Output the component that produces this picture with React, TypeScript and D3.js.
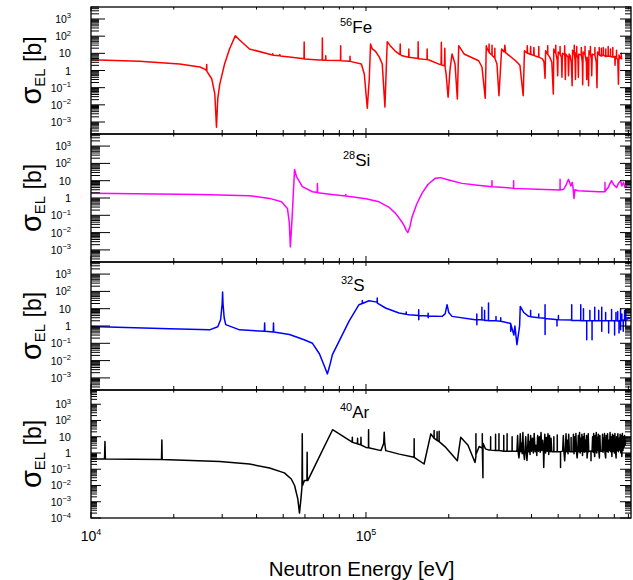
import React from "react";
import * as d3 from "d3";

// elastic cross sections, [energy eV, sigma b]
const fe56: [number, number][] = [
  [10000, 4.3], [15000, 3.5], [21000, 2.4], [24900, 1.6], [25900, 1.2],
  [26300, 1.0], [26350, 2.2], [26400, 0.9],
  [27500, 0.32], [28200, 0.043], [28600, 5e-4], [28900, 0.022], [29400, 0.16],
  [30600, 2.4], [31900, 18], [33500, 107], [34700, 60], [37700, 18],
  [45700, 8], [45800, 9.5], [46000, 7.8], [48500, 7.2], [48600, 8.6], [48800, 7],
  [52700, 6.2], [59500, 4.8], [59600, 46], [59700, 4.6], [67700, 4.1],
  [69300, 4.1], [69400, 78], [69500, 4.0], [71300, 4.0], [71400, 7.2], [71500, 4.0],
  [80800, 3.8], [80900, 28], [81000, 3.7], [87400, 3.5], [87500, 6.7], [87600, 3.4],
  [96200, 2.4], [98600, 0.63], [101100, 6.3e-3], [102800, 0.32], [103900, 35],
  [105400, 18], [108100, 13.6], [111700, 6.2], [114600, 2.4], [117200, 7.4e-3],
  [118500, 1.2], [119500, 48], [122500, 28], [127700, 13.6],
  [133000, 8.5], [133200, 35], [133400, 8.3], [135400, 7.2],
  [143000, 6], [143200, 18], [143400, 5.9], [154600, 5], [154800, 48], [155000, 4.9],
  [166700, 4.3], [166900, 18], [167100, 4.3], [169700, 4.1], [186000, 2.2],
  [187500, 2.2], [188000, 44], [188500, 2.1], [193000, 1.9], [193500, 20], [194000, 1.6],
  [195600, 0.63], [198900, 0.028], [202200, 1.2], [205600, 9.2], [210800, 2.4],
  [214900, 0.022], [217400, 28], [227300, 9.2], [256900, 3.7], [264100, 1.6],
  [271500, 0.024], [273800, 28], [276000, 18], [280000, 12], [280300, 35], [280600, 11],
  [287000, 8], [287300, 30], [287600, 7.5], [292000, 6], [294000, 5.5], [294200, 20], [294400, 5.2],
  [299400, 2.4], [304500, 0.034], [311400, 18], [318000, 12], [320000, 30], [322000, 11],
  [350000, 3.7], [363000, 2], [373000, 0.034], [377000, 14],
  [385000, 10.5], [386000, 28], [387000, 10], [396000, 8.8], [397000, 25], [398000, 8.5],
  [407000, 7.6], [408000, 22], [409000, 7.4], [418000, 6.5], [424500, 6.1], [425000, 25], [425500, 6],
  [438000, 4.8], [444000, 3.2], [448000, 0.35], [450000, 14], [457500, 9], [458000, 28], [458500, 8.5],
  [466000, 6], [474000, 3], [480000, 0.043], [482000, 18], [489500, 10], [490000, 30], [490500, 9.5],
  [496000, 4], [498000, 0.5], [500000, 12], [507500, 9], [508000, 25], [508500, 8.5], [514000, 6], [516000, 0.4],
  [518000, 10], [527500, 8], [528000, 28], [528500, 7.5], [531000, 0.3], [533000, 9], [543000, 6], [545000, 0.5],
  [548000, 9], [552000, 7.5], [558000, 3], [562000, 0.13], [564000, 15], [571500, 9], [572000, 30], [572500, 8.5],
  [576000, 4], [578000, 0.3], [580000, 11], [583500, 9], [584000, 25], [584500, 8.5], [590000, 5], [592000, 0.4],
  [594000, 9], [606500, 8], [607000, 22], [607500, 7.5], [612000, 3], [614000, 0.15], [616000, 12], [625500, 8.5],
  [626000, 26], [626500, 8], [633000, 3], [635000, 0.3], [637000, 6], [642000, 2], [645000, 0.13], [647000, 14],
  [654500, 9], [655000, 25], [655500, 8.5], [660000, 5], [662000, 0.5], [665000, 9], [679500, 8], [680000, 22],
  [680500, 7.5], [688000, 3], [692000, 0.1], [695000, 12], [704500, 8.5], [705000, 22], [705500, 8],
  [717500, 7], [718000, 20], [718500, 7], [729500, 8], [730000, 22], [730500, 7.8], [744500, 6.5], [745000, 18],
  [745500, 6.5], [759500, 7], [760000, 25], [760500, 7], [774500, 6.5], [775000, 18], [775500, 6.5],
  [789500, 6], [790000, 22], [790500, 6], [803000, 6.5], [805000, 2], [807000, 6.5], [814500, 5.5], [815000, 15],
  [815500, 5.5], [824000, 4], [828000, 0.16], [832000, 8], [840000, 5], [847500, 7], [848000, 10], [848500, 6], [852000, 4.5],
];

const si28: [number, number][] = [
  [10000, 1.87], [24900, 1.6], [37700, 1.35], [44600, 0.95], [49300, 0.6], [51800, 0.25],
  [52600, 0.04], [53100, 1.5e-3], [53600, 0.02], [53900, 0.083], [54500, 2.9], [55000, 45], [55900, 17],
  [58700, 4.5], [63900, 2.3], [66500, 2.1], [66600, 7], [66700, 2.0], [75000, 1.6],
  [84300, 1.3], [84400, 1.6], [84500, 1.3], [100000, 0.9], [111500, 0.6], [121000, 0.3], [128100, 0.13],
  [134000, 0.05], [137400, 0.027], [140000, 0.014], [142000, 0.01], [144500, 0.022], [147200, 0.083],
  [153000, 0.45], [160000, 1.9], [168000, 6], [178800, 14], [186500, 15], [200000, 11], [223500, 7],
  [255000, 5.5], [287000, 4.5], [287200, 10], [287400, 4.5], [320000, 4], [344100, 3.6], [344300, 10], [344500, 3.6],
  [420000, 3.2], [507800, 2.9], [508000, 12], [508200, 2.9], [524000, 3.2], [535000, 6], [545000, 12],
  [552000, 7], [556000, 5], [563000, 8], [566000, 4], [571000, 0.95], [575000, 3], [592000, 2.6],
  [700000, 2.3], [739800, 2.3], [740000, 8], [740200, 2.4], [760000, 4], [772000, 7], [782000, 10],
  [795000, 6], [815000, 4], [828000, 7], [843000, 10], [852000, 5], [865000, 8], [875000, 4], [887000, 5],
];

const s32: [number, number][] = [
  [10000, 0.95], [19300, 0.7], [27000, 0.6], [28900, 0.9], [29600, 2.3], [30000, 20], [30100, 91], [30200, 20],
  [30500, 3], [30900, 1.2], [34700, 0.6], [42700, 0.5], [42800, 1.5], [42900, 0.49], [46000, 0.45], [46100, 1.5],
  [46200, 0.45], [52700, 0.32], [59600, 0.16], [63900, 0.1], [67700, 0.025], [70500, 5e-3], [72400, 1.7e-3],
  [73800, 5e-3], [75500, 0.022], [79800, 0.13], [86800, 1.9], [94300, 17], [96900, 20], [97000, 30], [97100, 20],
  [102500, 29], [109800, 24], [109900, 42], [110000, 21], [117800, 11], [131800, 5.6], [140000, 4.8], [140100, 6.5], [140200, 4.7],
  [143200, 4.5], [155400, 4], [155500, 8.7], [155600, 2.3], [155700, 4], [168200, 3.8], [168300, 5.5], [168400, 3], [168500, 3.8],
  [189200, 3.6], [194000, 5], [197200, 17], [200000, 6], [205600, 3.6], [249700, 2.3], [252900, 2.3], [253000, 5],
  [253100, 1.2], [253200, 2.3], [263900, 2.3], [264000, 12], [264100, 2.2], [269900, 2.2], [270000, 8], [270100, 2.1],
  [278900, 2.1], [279000, 21], [279100, 2.0], [295000, 2.0], [297000, 2.0], [297100, 3.5], [297200, 2.0], [309000, 1.9],
  [309100, 3], [309200, 1.9], [330000, 1.5], [335900, 1.4], [336000, 0.5], [336100, 1.3], [345000, 0.3], [348000, 1],
  [354000, 0.083], [362000, 1], [364000, 13.5], [375000, 6], [390000, 3.6], [396900, 3.5], [397000, 8], [397100, 3.4],
  [424900, 3], [425000, 5], [425100, 3], [447900, 2.8], [448000, 17], [448100, 0.32], [448200, 2.7], [490000, 2.4],
  [495000, 2.3], [495100, 1], [495200, 2.3], [500900, 2.3], [501000, 4], [501100, 2.3], [559900, 2.2], [560000, 17],
  [560100, 2.1], [603900, 2.1], [604000, 17], [604100, 2], [617900, 2], [618000, 10], [618100, 2], [634900, 2],
  [635000, 0.16], [635100, 2], [650000, 2.1], [652000, 2.1], [652100, 8], [652200, 2], [663900, 2], [664000, 0.16], [664100, 2],
  [678900, 2], [679000, 12], [679100, 2], [690000, 2], [701900, 2], [702000, 8], [702100, 2], [719900, 2], [720000, 12],
  [720100, 0.5], [720200, 2], [743900, 2], [744000, 6], [744100, 2], [762900, 2], [763000, 0.4], [763100, 2], [781900, 2.1],
  [782000, 9], [782100, 2], [801900, 2], [802000, 0.3], [802100, 2], [811000, 2.2], [811100, 6], [811200, 2], [822900, 2], [823000, 7],
  [823100, 2], [832000, 1.8], [832100, 0.4], [832200, 2], [842900, 2], [843000, 10], [843100, 0.6], [843200, 2], [852000, 2.3], [852100, 5], [852200, 2],
  [862000, 2], [862100, 0.5], [862200, 2.2], [871900, 2.2], [872000, 8], [872100, 2], [880000, 2.5], [880100, 9], [880200, 1], [880300, 2.5],
  [894000, 2.5], [900000, 3], [910000, 2.5],
];

const ar40: [number, number][] = [
  [10000, 0.43], [11200, 0.43], [11240, 5], [11280, 0.43], [18050, 0.4], [18100, 6.3], [18150, 0.4],
  [29400, 0.3], [37700, 0.21], [44600, 0.12], [50500, 0.06], [53500, 0.025], [55000, 0.01], [56500, 1.5e-3], [57300, 2e-4],
  [58000, 1.5e-3], [58500, 0.008], [58650, 15], [58800, 0.01], [59700, 0.02], [61000, 0.02], [61100, 1.1], [61200, 0.02],
  [61400, 0.02], [67700, 0.6], [75600, 27], [89100, 4.6], [89200, 9.3], [89300, 4.5], [93100, 3.7], [93200, 8], [93300, 3.6],
  [95800, 3.2], [95900, 9.3], [96000, 3.1], [100000, 2.2], [102100, 2.1], [102200, 27], [102300, 2.1], [113400, 1.4],
  [116000, 4], [116500, 19], [117000, 4], [118000, 1.4], [132100, 0.85], [149600, 0.54], [149700, 7.4], [149800, 0.54],
  [162700, 0.21], [172100, 15], [176800, 8], [176900, 24], [177000, 8], [181300, 6], [181400, 20], [181500, 6], [184400, 5],
  [184500, 22], [184600, 5], [195100, 2.2], [214900, 0.33], [221100, 9.3], [235000, 3], [249200, 0.26],
  [251000, 0.6], [251100, 15], [251200, 0.8], [258000, 2.5], [264800, 2], [264900, 15], [265000, 2], [266300, 0.03], [266400, 4],
  [272000, 1.8], [280000, 1.5], [283900, 1.5], [284000, 10], [284100, 1.5], [295900, 1.4], [296000, 14], [296100, 1.4],
  [304400, 1.4], [304500, 15], [304600, 1.4], [316900, 1.3], [317000, 12], [317100, 1.3], [325900, 1.3], [326000, 15], [326100, 1.3],
  [339900, 1.3], [340000, 10], [340100, 1.3],
  [354000, 1.3], [356000, 12], [358000, 1.0], [360000, 0.5], [362000, 1.4], [364000, 15], [366000, 1.2], [368000, 4], [370000, 0.9],
  [372000, 18], [374000, 1.3], [377000, 0.4], [379000, 1.5], [381000, 10], [383000, 1.1], [385000, 0.35], [387000, 1.4], [389000, 14],
  [391000, 1.2], [393000, 5], [395000, 0.8], [397000, 12], [400000, 1.3], [403000, 8], [406000, 1.0], [409000, 16], [412000, 1.2],
  [415000, 3], [418000, 0.7], [421000, 12], [424000, 1.3], [427000, 10], [430000, 1.1], [433000, 18], [436000, 1.4], [439000, 6],
  [442000, 1.2], [443000, 0.13], [444500, 1.2], [447000, 14], [450000, 1.0], [453000, 9], [456000, 1.3], [459000, 15], [462000, 0.8],
  [465000, 12], [468000, 1.2], [471000, 8], [474000, 1.2],
  [482000, 1.2], [482200, 10], [482400, 1.2], [496000, 1.2], [496200, 13], [496400, 1.2], [509900, 1.2], [510000, 0.13], [510100, 1.2],
  [519000, 1.3], [522000, 12], [525000, 1.0], [528000, 0.33], [531000, 1.4], [534000, 15], [537000, 1.2], [540000, 6], [543000, 0.9],
  [546000, 14], [549000, 1.3], [552000, 1.2], [557000, 1.2], [557200, 9], [557400, 1.2], [566000, 1.2], [568000, 14], [571000, 0.9],
  [574000, 10], [577000, 1.3], [580000, 16], [583000, 1.1], [586000, 0.5], [589000, 1.4], [592000, 12], [595000, 1.2], [598000, 18],
  [601000, 1.0], [604000, 8], [607000, 1.3], [610000, 14], [613000, 0.7], [616000, 10], [619000, 1.2], [622000, 16], [625000, 1.1],
  [628000, 6], [631000, 1.3], [634000, 12], [637000, 0.5], [640000, 1.4], [643000, 15], [646000, 1.2], [650000, 1.3], [658000, 1.3],
  [658200, 0.33], [658400, 1.3], [664000, 1.3], [667000, 10], [670000, 1.1], [673000, 16], [676000, 1.3], [679000, 0.6], [682000, 12],
  [685000, 1.2], [688000, 18], [691000, 1.0], [694000, 9], [697000, 1.4], [700000, 14], [703000, 1.2], [706000, 0.5], [709000, 12],
  [712000, 1.3], [722000, 1.3], [725000, 14], [728000, 1.1], [731000, 8], [734000, 1.4], [737000, 16], [740000, 1.0], [744000, 0.5],
  [748000, 12], [752000, 1.3], [756000, 15], [760000, 1.1], [764000, 6], [768000, 1.4], [772000, 18], [776000, 1.2], [780000, 10],
  [784000, 0.6], [788000, 14], [792000, 1.3], [796000, 12], [800000, 1.0], [804000, 16], [808000, 1.3], [812000, 0.5], [816000, 10],
  [820000, 1.4], [824000, 15], [828000, 1.2], [832000, 8], [836000, 1.5], [840000, 14], [844000, 1.1], [848000, 12], [852000, 0.6],
  [856000, 16], [860000, 1.4], [864000, 10], [868000, 2], [872000, 12], [876000, 3], [880000, 6],
];

const seriesData = [fe56, si28, s32, ar40];
const massNumbers = ["56", "28", "32", "40"];
const symbols = ["Fe", "Si", "S", "Ar"];
const colors = ["#ff0000", "#ff00ff", "#0000ff", "#000000"];
const xTickExps = [4, 5];

const W = 633;
const H = 580;
const X0 = 91;
const X1 = 631;
const font = "'Liberation Sans', Arial, Helvetica, sans-serif";

const panels = [
  { top: 7, bottom: 134, yMin: 2e-4, yMax: 5e3, major: 14, minor: 8, lx: 340, ly: 33 },
  { top: 134, bottom: 262, yMin: 2e-4, yMax: 5e3, major: 19, minor: 9, lx: 343, ly: 166 },
  { top: 262, bottom: 390, yMin: 2e-4, yMax: 5e3, major: 19, minor: 9, lx: 341, ly: 291 },
  { top: 390, bottom: 518, yMin: 1e-4, yMax: 7.5e3, major: 10, minor: 6, lx: 340, ly: 418 },
];

const x = d3.scaleLog().domain([1e4, 9.2e5]).range([X0, X1]);

function logTicks(lo: number, hi: number) {
  const out: { v: number; major: boolean; exp: number }[] = [];
  for (let k = Math.floor(Math.log10(lo)); k <= Math.ceil(Math.log10(hi)); k++) {
    for (let m = 1; m <= 9; m++) {
      const v = m * Math.pow(10, k);
      if (v >= lo * 0.9999 && v <= hi * 1.0001) out.push({ v, major: m === 1, exp: k });
    }
  }
  return out;
}

const xTicks = logTicks(1e4, 9.2e5);

function YLabel({ exp, y }: { exp: number; y: number }) {
  if (exp === 0 || exp === 1) {
    return (
      <text x={71} y={y + 4} textAnchor="end" fontSize={11}>
        {exp === 0 ? "1" : "10"}
      </text>
    );
  }
  const sup = exp < 0 ? "\u2212" + Math.abs(exp) : String(exp);
  return (
    <text x={71} y={y + 4} textAnchor="end" fontSize={10.5}>
      10<tspan dy={-4.5} fontSize={7.5}>{sup}</tspan>
    </text>
  );
}

function Panel({ i }: { i: number }) {
  const p = panels[i];
  const y = d3.scaleLog().domain([p.yMin, p.yMax]).range([p.bottom, p.top]);
  const line = d3
    .line<[number, number]>()
    .x((d) => x(d[0]))
    .y((d) => y(d[1]));
  const yTicks = logTicks(p.yMin, p.yMax);
  const cy = (p.top + p.bottom) / 2;
  return (
    <g>
      <defs>
        <clipPath id={`clip${i}`}>
          <rect x={X0} y={p.top} width={X1 - X0} height={p.bottom - p.top} />
        </clipPath>
      </defs>
      <path
        d={line(seriesData[i]) || ""}
        fill="none"
        stroke={colors[i]}
        strokeWidth={1.5}
        strokeLinejoin="round"
        clipPath={`url(#clip${i})`}
      />
      <rect x={X0} y={p.top} width={X1 - X0} height={p.bottom - p.top} fill="none" stroke="#000" strokeWidth={1.3} />
      {yTicks.map((t, j) => {
        const yy = y(t.v);
        return (
          <g key={j}>
            <line x1={X0} x2={X0 + (t.major ? p.major : p.minor)} y1={yy} y2={yy} stroke="#000" strokeWidth={1} />
            <line x1={X1} x2={X1 - (t.major ? 11 : 6)} y1={yy} y2={yy} stroke="#000" strokeWidth={1} />
          </g>
        );
      })}
      {yTicks.filter((t) => t.major).map((t, j) => (
        <YLabel key={j} exp={t.exp} y={y(t.v)} />
      ))}
      {xTicks.map((t, j) => {
        const xx = x(t.v);
        return (
          <g key={j}>
            <line x1={xx} x2={xx} y1={p.bottom} y2={p.bottom - (t.major ? 6 : 4)} stroke="#000" strokeWidth={1} />
            <line x1={xx} x2={xx} y1={p.top} y2={p.top + (t.major ? 4 : 2.5)} stroke="#000" strokeWidth={1} />
          </g>
        );
      })}
      <text x={p.lx} y={p.ly} fontSize={17}>
        <tspan fontSize={11} dy={-7}>{massNumbers[i]}</tspan>
        <tspan dy={7}>{symbols[i]}</tspan>
      </text>
      <text transform={`translate(41, ${cy}) rotate(-90)`} textAnchor="middle" fontSize={23}>
        <tspan fontSize={29}>σ</tspan>
        <tspan fontSize={15} dy={4}>EL</tspan>
        <tspan dy={-4}> [b]</tspan>
      </text>
    </g>
  );
}

export default function App() {
  return (
    <svg
      width={W}
      height={H}
      style={{ position: "absolute", left: 0, top: 0, display: "block", background: "#fff" }}
      fontFamily={font}
      fill="#000"
    >
      {panels.map((_, i) => (
        <Panel key={i} i={i} />
      ))}
      {xTickExps.map((e) => (
        <text key={e} x={x(Math.pow(10, e))} y={541} textAnchor="middle" fontSize={14}>
          10<tspan dy={-6} fontSize={9}>{e}</tspan>
        </text>
      ))}
      <text x={361.5} y={576} textAnchor="middle" fontSize={20.5}>
        Neutron Energy [eV]
      </text>
    </svg>
  );
}
